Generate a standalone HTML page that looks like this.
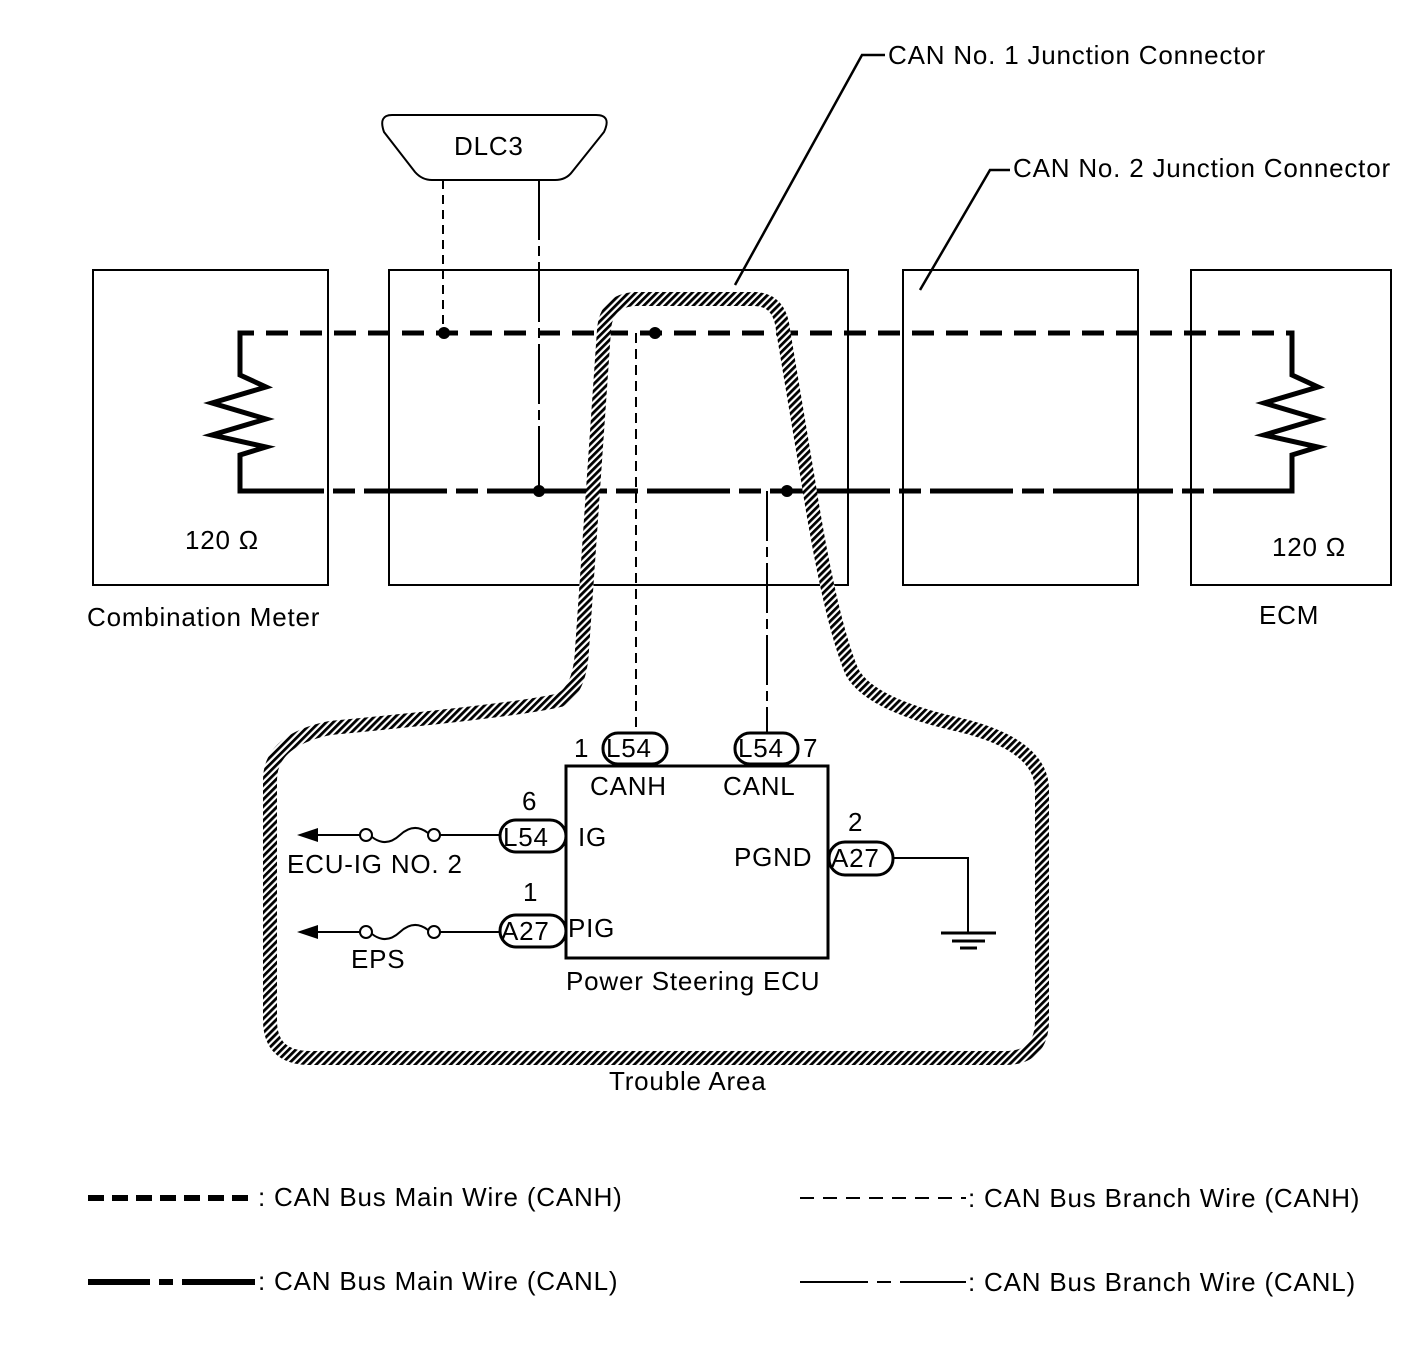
<!DOCTYPE html>
<html><head><meta charset="utf-8"><style>
html,body{margin:0;padding:0;background:#fff}
svg{display:block}
text{font-family:"Liberation Sans",Arial,sans-serif;font-size:26px;letter-spacing:0.8px;fill:#000}
</style></head><body>
<svg width="1424" height="1361" viewBox="0 0 1424 1361" xmlns="http://www.w3.org/2000/svg">
<defs>
<pattern id="h" width="5" height="5" patternUnits="userSpaceOnUse" patternTransform="rotate(45)">
<rect width="5" height="5" fill="#fff"/><rect width="2.8" height="5" fill="#000"/>
</pattern>
</defs>
<g fill="none" stroke="#000">
<rect x="93" y="270" width="235" height="315" stroke-width="2"/>
<rect x="389" y="270" width="459" height="315" stroke-width="2"/>
<rect x="903" y="270" width="235" height="315" stroke-width="2"/>
<rect x="1191" y="270" width="200" height="315" stroke-width="2"/>
<path d="M392 115 L596 115 Q612 115 604 132 L572 172 Q566 180 555 180 L432 180 Q422 180 415 172 L384 132 Q378 115 392 115 Z" stroke-width="2"/>
<line x1="443" y1="180" x2="443" y2="333" stroke-width="2" stroke-dasharray="9,6"/>
<line x1="539" y1="180" x2="539" y2="491" stroke-width="2" stroke-dasharray="60,6,10,6"/>
<path d="M240 375 L240 333 L1292 333 L1292 375" stroke-width="5" stroke-dasharray="22,12"/>
<path d="M240 455 L240 491 L1292 491 L1292 455" stroke-width="5" stroke-dasharray="120,9,22,9,83,9,22,9"/>
<path d="M240 333 L240 375 L266 387 L212 403 L266 419 L212 435 L266 447 L240 455 L240 491" stroke-width="5"/>
<path d="M1292 333 L1292 375 L1318 387 L1264 403 L1318 419 L1264 435 L1318 447 L1292 455 L1292 491" stroke-width="5"/>
<line x1="636" y1="333" x2="636" y2="735" stroke-width="2" stroke-dasharray="10,6"/>
<line x1="767" y1="491" x2="767" y2="735" stroke-width="2" stroke-dasharray="50,6,10,6"/>
<path d="M604 330 Q606 300 636 299 L755 299 Q780 300 783 330 L808 480 Q830 620 852 672 Q870 705 960 725 Q1042 745 1042 790 L1042 1020 Q1042 1058 1005 1058 L310 1058 Q270 1058 270 1020 L270 780 Q270 740 330 728 Q520 710 560 700 Q580 690 582 650 L604 330 Z" stroke="url(#h)" stroke-width="14"/>
<polyline points="735,285 862,55 885,55" stroke-width="2.5"/>
<polyline points="920,290 990,170 1010,170" stroke-width="2.5"/>
<rect x="566" y="766" width="262" height="192" stroke-width="3"/>
<rect x="603" y="733" width="64" height="31" rx="15" stroke-width="3" fill="#fff"/>
<rect x="735" y="733" width="63" height="31" rx="15" stroke-width="3" fill="#fff"/>
<rect x="500" y="820" width="66" height="32" rx="16" stroke-width="3" fill="#fff"/>
<rect x="500" y="915" width="66" height="32" rx="16" stroke-width="3" fill="#fff"/>
<rect x="829" y="842" width="64" height="33" rx="16" stroke-width="3" fill="#fff"/>
<polyline points="893,858 968,858 968,932" stroke-width="2"/>
<line x1="941" y1="933" x2="996" y2="933" stroke-width="3"/>
<line x1="952" y1="941" x2="985" y2="941" stroke-width="3"/>
<line x1="960" y1="948" x2="977" y2="948" stroke-width="3"/>
<line x1="315" y1="835" x2="360" y2="835" stroke-width="2"/>
<circle cx="366" cy="835" r="6" stroke-width="2"/>
<path d="M372 837 Q386 848 400 835 Q414 822 428 833" stroke-width="2"/>
<circle cx="434" cy="835" r="6" stroke-width="2"/>
<line x1="440" y1="835" x2="500" y2="835" stroke-width="2"/>
<line x1="315" y1="932" x2="360" y2="932" stroke-width="2"/>
<circle cx="366" cy="932" r="6" stroke-width="2"/>
<path d="M372 934 Q386 945 400 932 Q414 919 428 930" stroke-width="2"/>
<circle cx="434" cy="932" r="6" stroke-width="2"/>
<line x1="440" y1="932" x2="500" y2="932" stroke-width="2"/>
<line x1="88" y1="1198" x2="255" y2="1198" stroke-width="6" stroke-dasharray="16,8"/>
<line x1="88" y1="1282" x2="255" y2="1282" stroke-width="6" stroke-dasharray="62,9,14,9,82"/>
<line x1="800" y1="1198" x2="966" y2="1198" stroke-width="2" stroke-dasharray="14,9"/>
<line x1="800" y1="1282" x2="966" y2="1282" stroke-width="2" stroke-dasharray="68,9,14,9,70"/>
</g>
<polygon points="297,835 318,828 318,842" fill="#000"/>
<polygon points="297,932 318,925 318,939" fill="#000"/>
<g fill="#000">
<circle cx="444" cy="333" r="6"/><circle cx="655" cy="333" r="6"/>
<circle cx="539" cy="491" r="6"/><circle cx="787" cy="491" r="6"/>
</g>
<text x="888" y="64">CAN No. 1 Junction Connector</text>
<text x="1013" y="177">CAN No. 2 Junction Connector</text>
<text x="454" y="155">DLC3</text>
<text x="185" y="549">120 Ω</text>
<text x="1272" y="556">120 Ω</text>
<text x="87" y="626">Combination Meter</text>
<text x="1259" y="624">ECM</text>
<text x="574" y="757">1</text>
<text x="606" y="757" letter-spacing="0">L54</text>
<text x="738" y="757" letter-spacing="0">L54</text>
<text x="803" y="757">7</text>
<text x="590" y="795">CANH</text>
<text x="723" y="795">CANL</text>
<text x="522" y="810">6</text>
<text x="503" y="846" letter-spacing="0">L54</text>
<text x="578" y="846">IG</text>
<text x="287" y="873">ECU-IG NO. 2</text>
<text x="523" y="901">1</text>
<text x="501" y="940" letter-spacing="0">A27</text>
<text x="568" y="937">PIG</text>
<text x="351" y="968">EPS</text>
<text x="848" y="831">2</text>
<text x="734" y="866">PGND</text>
<text x="831" y="867" letter-spacing="0">A27</text>
<text x="566" y="990">Power Steering ECU</text>
<text x="609" y="1090">Trouble Area</text>
<text x="258" y="1206">: CAN Bus Main Wire (CANH)</text>
<text x="258" y="1290">: CAN Bus Main Wire (CANL)</text>
<text x="968" y="1207">: CAN Bus Branch Wire (CANH)</text>
<text x="968" y="1291">: CAN Bus Branch Wire (CANL)</text>
</svg>
</body></html>
